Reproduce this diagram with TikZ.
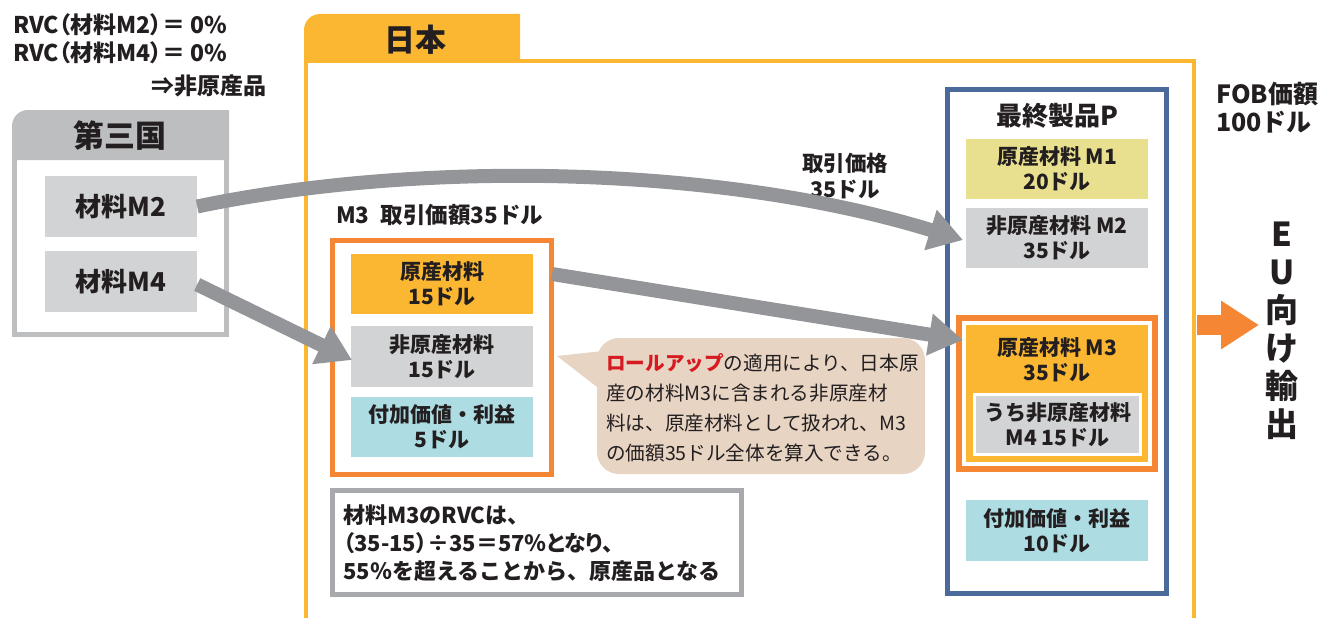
\documentclass[tikz,border=0pt]{standalone}
\usepackage{fontspec}
\setmainfont{Noto Sans CJK JP}
\newfontfamily\paltfont{Noto Sans CJK JP}[RawFeature=+palt]
\usetikzlibrary{arrows.meta}
\definecolor{txt}{HTML}{231F20}
\definecolor{jyel}{HTML}{FBB732}
\definecolor{org}{HTML}{F58634}
\definecolor{hdgray}{HTML}{BCBEC0}
\definecolor{boxgray}{HTML}{D1D3D4}
\definecolor{arrgray}{HTML}{939598}
\definecolor{cyanb}{HTML}{ADDCE3}
\definecolor{khaki}{HTML}{E9E08F}
\definecolor{blu}{HTML}{4A6A9B}
\definecolor{beige}{HTML}{E7D4C3}
\definecolor{redt}{HTML}{D71920}
\definecolor{notegray}{HTML}{A7A9AC}
\begin{document}
\begin{tikzpicture}[x=1pt,y=-1pt,
  box/.style={rectangle, inner sep=0pt, align=center, text=txt, font=\bfseries\fontsize{21}{25}\selectfont},
  lbl/.style={inner sep=0pt, text=txt, font=\bfseries\fontsize{20}{28}\selectfont},
  tl/.style={lbl, font=\paltfont\bfseries\fontsize{23}{28}\selectfont},
  garrow/.style={draw=arrgray, line width=14pt, -{Triangle[length=34pt,width=40pt]}},
]
\useasboundingbox (0,0) rectangle (1327,618);
% top-left text
\node[tl, anchor=west] (rvc2) at (13,25) {RVC（材料M2）＝ 0\%};
\node[tl, anchor=west] (rvc4) at (13,53) {RVC（材料M4）＝ 0\%};
\node[tl, anchor=east] (nonorig) at (267,86) {⇒非原産品};
% third country
\fill[hdgray] (12,160) -- (12,126) arc[start angle=180,end angle=270,radius=16] -- (229,110) -- (229,160) -- cycle;
\draw[hdgray, line width=5pt] (14.5,158) -- (14.5,334.5) -- (226.5,334.5) -- (226.5,158);
\node[lbl, font=\bfseries\fontsize{31}{32}\selectfont] (third) at (120,136) {第三国};
\node[box, fill=boxgray, minimum width=152pt, minimum height=61pt, font=\bfseries\fontsize{26}{28}\selectfont] (m2src) at (121,206.5) {材料M2};
\node[box, fill=boxgray, minimum width=152pt, minimum height=61pt, font=\bfseries\fontsize{26}{28}\selectfont] (m4src) at (121,281.5) {材料M4};
% Japan
\fill[jyel] (304,63) -- (304,30) arc[start angle=180,end angle=270,radius=16] -- (520,14) -- (520,63) -- cycle;
\draw[jyel, line width=4.5pt] (306,618) -- (306,61) -- (1194,61) -- (1194,618);
\node[lbl, font=\bfseries\fontsize{31}{32}\selectfont] (japan) at (415,40) {日本};
% M3 in Japan
\node[lbl, anchor=west, font=\bfseries\fontsize{22.5}{28}\selectfont] (m3lbl) at (336,215) {M3\hspace{0.5em}取引価額35ドル};
\node[draw=org, line width=5pt, minimum width=219pt, minimum height=234pt, inner sep=0pt] (m3frame) at (442,357.5) {};
\node[box, fill=jyel, minimum width=182pt, minimum height=60pt] (orig15) at (442,284) {原産材料\\15ドル};
\node[box, fill=boxgray, minimum width=182pt, minimum height=61pt] (non15) at (442,356.5) {非原産材料\\15ドル};
\node[box, fill=cyanb, minimum width=182pt, minimum height=60pt] (va5) at (442,427) {付加価値・利益\\5ドル};
% note box
\node[draw=notegray, line width=5pt, minimum width=409pt, minimum height=104pt, inner sep=0pt] (note) at (537,542.5) {};
\node[lbl, anchor=west, align=left, font=\bfseries\fontsize{22}{28}\selectfont] (notetxt) at (343,543)
  {材料M3のRVCは、\\{\paltfont（35-15）÷35＝57％となり、}\\55％を超えることから、原産品となる};
% speech bubble
\fill[beige, rounded corners=22pt] (597,338) rectangle (925,474);
\fill[beige] (557,356) -- (612,350) -- (606,394) -- cycle;
\node[inner sep=0pt, anchor=west, align=left, text=txt, font=\fontsize{19.6}{30}\selectfont] (bubble) at (606,407.5)
  {{\bfseries\color{redt}ロールアップ}の適用により、日本原\\産の材料M3に含まれる非原産材\\料は、原産材料として扱われ、M3\\の価額35ドル全体を算入できる。};
% final product
\node[draw=blu, line width=5pt, minimum width=219pt, minimum height=504pt, inner sep=0pt] (pframe) at (1057,341.5) {};
\node[lbl, font=\bfseries\fontsize{26}{28}\selectfont] (ptitle) at (1057,116) {最終製品P};
\node[box, fill=khaki, minimum width=182pt, minimum height=60pt] (m1) at (1057,169) {原産材料 M1\\20ドル};
\node[box, fill=boxgray, minimum width=182pt, minimum height=60pt] (m2dst) at (1057,238) {非原産材料 M2\\35ドル};
\node[draw=org, line width=6pt, minimum width=196pt, minimum height=151pt, inner sep=0pt] (m3dst) at (1057,393.5) {};
\node[fill=jyel, minimum width=182pt, minimum height=137pt, inner sep=0pt] (m3yel) at (1057,393.5) {};
\node[box] (m3txt) at (1057,359.5) {原産材料 M3\\35ドル};
\node[box, fill=boxgray, draw=white, line width=3pt, minimum width=166pt, minimum height=60pt] (m4in) at (1057.5,424.5) {うち非原産材料\\M4 15ドル};
\node[box, fill=cyanb, minimum width=182pt, minimum height=61pt] (va10) at (1057,530.5) {付加価値・利益\\10ドル};
% FOB and EU
\node[lbl, anchor=west, align=left, font=\bfseries\fontsize{25}{28}\selectfont] (fob) at (1216,107.5) {FOB価額\\100ドル};
\node[lbl, align=center, font=\bfseries\fontsize{33}{38}\selectfont] (eu) at (1282,331) {E\\U\\向\\け\\輸\\出};
\coordinate (oa1) at (1197,325);
\coordinate (oa2) at (1259,325);
\draw[org, line width=20pt, -{Triangle[length=38pt,width=46pt]}] (oa1) -- (oa2);
% arrows
\node[lbl, align=center, font=\bfseries\fontsize{21.5}{26}\selectfont] (price) at (845,176) {取引価格\\35ドル};
\coordinate (t1) at (963,240);
\coordinate (s2) at (552,274);
\coordinate (t2) at (963,340);
\coordinate (t3) at (352,360);
\draw[garrow] (m2src.east) .. controls (420,160) and (720,165) .. (t1);
\draw[garrow] (s2) -- (t2);
\draw[garrow] ([yshift=-3pt]m4src.east) -- (t3);
\end{tikzpicture}
\end{document}
